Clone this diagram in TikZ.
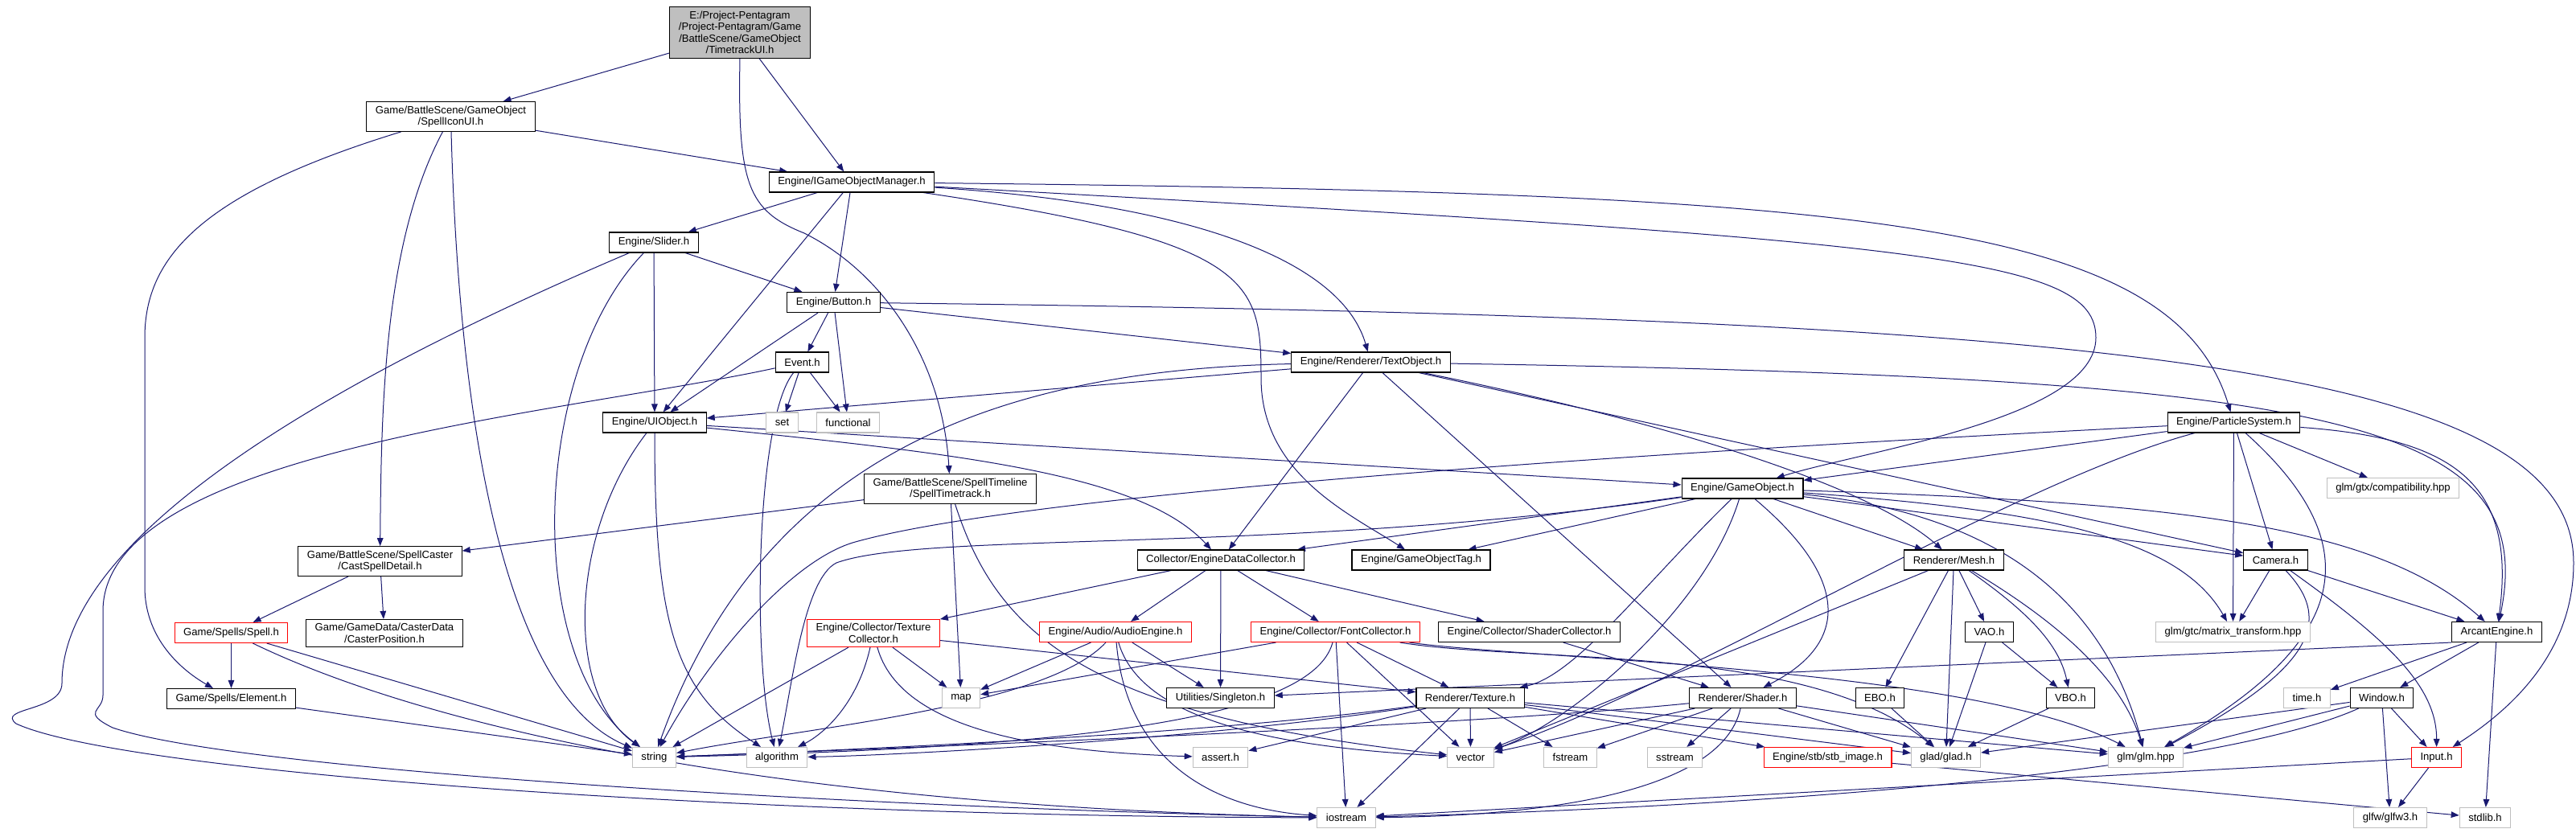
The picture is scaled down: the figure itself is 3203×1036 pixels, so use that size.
\documentclass[tikz,border=0pt]{standalone}
\usepackage{fontspec}
\setmainfont{Liberation Sans}
\usetikzlibrary{arrows.meta}
\pgfdeclarelayer{fond}
\pgfsetlayers{fond,main}
\definecolor{lienbleu}{HTML}{191970}
\definecolor{grisclair}{HTML}{BFBFBF}
\tikzset{
  fichier/.style={draw=black, line width=0.55pt, fill=white, inner xsep=5.5pt, inner ysep=2.5pt,
    minimum height=12.5pt, align=center, font=\fontsize{6.55}{7.25}\selectfont},
  systeme/.style={fichier, draw=grisclair},
  rouge/.style={fichier, draw=red},
  racine/.style={fichier, fill=grisclair},
  inclut/.style={draw=lienbleu, line width=0.5pt, -{Triangle[length=5pt,width=3.8pt]}}
}

\begin{document}
\begin{tikzpicture}[x=0.5pt, y=-0.5pt]
  \useasboundingbox (0,0) rectangle (3203,1036);

  % Fichiers du projet
  \node[racine] (root) at (920,40.5) {E:/Project-Pentagram\\/Project-Pentagram/Game\\/BattleScene/GameObject\\/TimetrackUI.h};
  \node[fichier] (spellicon) at (560.5,145) {Game/BattleScene/GameObject\\/SpellIconUI.h};
  \node[fichier] (igom) at (1059,226.5) {Engine/IGameObjectManager.h};
  \node[fichier] (slider) at (813,301.5) {Engine/Slider.h};
  \node[fichier] (button) at (1036.5,376) {Engine/Button.h};
  \node[fichier] (event) at (997.5,450.5) {Event.h};
  \node[fichier] (textobj) at (1704.5,450.5) {Engine/Renderer/TextObject.h};
  \node[fichier] (uiobj) at (814,525.5) {Engine/UIObject.h};
  \node[fichier] (particle) at (2777.5,525.5) {Engine/ParticleSystem.h};
  \node[fichier] (timetrack) at (1181.5,608) {Game/BattleScene/SpellTimeline\\/SpellTimetrack.h};
  \node[fichier] (gameobj) at (2166.5,607.5) {Engine/GameObject.h};
  \node[fichier] (castspell) at (472.5,698) {Game/BattleScene/SpellCaster\\/CastSpellDetail.h};
  \node[fichier] (datacoll) at (1518,696.5) {Collector/EngineDataCollector.h};
  \node[fichier] (gotag) at (1767,696.5) {Engine/GameObjectTag.h};
  \node[fichier] (mesh) at (2429.5,696.5) {Renderer/Mesh.h};
  \node[fichier] (camera) at (2829.5,696.5) {Camera.h};
  \node[rouge] (spell) at (287.5,787) {Game/Spells/Spell.h};
  \node[fichier] (casterpos) at (478,787.5) {Game/GameData/CasterData\\/CasterPosition.h};
  \node[rouge] (texcoll) at (1086,787.5) {Engine/Collector/Texture\\Collector.h};
  \node[rouge] (audio) at (1387,786) {Engine/Audio/AudioEngine.h};
  \node[rouge] (fontcoll) at (1660.5,786) {Engine/Collector/FontCollector.h};
  \node[fichier] (shadercoll) at (1901.5,786) {Engine/Collector/ShaderCollector.h};
  \node[fichier] (vao) at (2473.5,786) {VAO.h};
  \node[fichier] (arcant) at (3104.5,786) {ArcantEngine.h};
  \node[fichier] (element) at (287.5,869) {Game/Spells/Element.h};
  \node[fichier] (singleton) at (1517.5,868) {Utilities/Singleton.h};
  \node[fichier] (texture) at (1828,868) {Renderer/Texture.h};
  \node[fichier] (shader) at (2167,868) {Renderer/Shader.h};
  \node[fichier] (ebo) at (2337.5,868) {EBO.h};
  \node[fichier] (vbo) at (2574.5,868) {VBO.h};
  \node[fichier] (window) at (2961.5,868) {Window.h};
  \node[rouge] (stb) at (2272.5,942) {Engine/stb/stb\_image.h};
  \node[rouge] (input) at (3029.5,942) {Input.h};

  % En-tetes systeme
  \node[systeme] (set) at (972.5,525.5) {set};
  \node[systeme] (functional) at (1054.5,525.5) {functional};
  \node[systeme] (compat) at (2975.5,607) {glm/gtx/compatibility.hpp};
  \node[systeme] (matrix) at (2776.5,786) {glm/gtc/matrix\_transform.hpp};
  \node[systeme] (map) at (1195,868) {map};
  \node[systeme] (timeh) at (2868.5,868) {time.h};
  \node[systeme] (string) at (813.5,942) {string};
  \node[systeme] (algorithm) at (966,942) {algorithm};
  \node[systeme] (assert) at (1517.5,942) {assert.h};
  \node[systeme] (vector) at (1828.5,942) {vector};
  \node[systeme] (fstream) at (1952.5,942) {fstream};
  \node[systeme] (sstream) at (2082.5,942) {sstream};
  \node[systeme] (glad) at (2419.5,942) {glad/glad.h};
  \node[systeme] (glm) at (2668,942) {glm/glm.hpp};
  \node[systeme] (iostream) at (1674,1017) {iostream};
  \node[systeme] (glfw) at (2972,1017) {glfw/glfw3.h};
  \node[systeme] (stdlib) at (3090,1017) {stdlib.h};

  \begin{pgfonlayer}{fond}
  % Fond blanc
  \fill[white] (0,0) rectangle (3203,1036);

  % Liens depuis la racine
  \draw[inclut] (root) -- (spellicon);
  \draw[inclut] (root) -- (igom);
  \draw[inclut] (root.south) .. controls (917,230) and (930,262) .. (1000,290) .. controls (1100,340) and (1172,450) .. (timetrack);

  % SpellIconUI
  \draw[inclut] (spellicon) -- (igom);
  \draw[inclut] (spellicon) .. controls (478,300) and (474,500) .. (castspell);
  \draw[inclut] (spellicon) .. controls (570,500) and (620,860) .. (string);
  \draw[inclut] (spellicon) .. controls (250,240) and (180,320) .. (180,420) -- (180,730) .. controls (180,790) and (220,830) .. (element);

  % IGameObjectManager
  \draw[inclut] (igom) -- (slider);
  \draw[inclut] (igom) -- (uiobj);
  \draw[inclut] (igom) -- (button);
  \draw[inclut] (igom) .. controls (1500,255) and (1670,330) .. (textobj);
  \draw[inclut] (igom) .. controls (1560,300) and (1568,350) .. (1568,470) .. controls (1568,590) and (1680,640) .. (gotag);
  \draw[inclut] (igom) .. controls (2400,300) and (2606,320) .. (2606,420) .. controls (2606,520) and (2320,560) .. (gameobj);
  \draw[inclut] (igom) .. controls (2300,240) and (2700,270) .. (particle);

  % Slider
  \draw[inclut] (slider) -- (button);
  \draw[inclut] (slider) -- (uiobj);
  \draw[inclut] (slider) .. controls (660,460) and (650,820) .. (string);
  \draw[inclut] (slider) .. controls (300,520) and (77,700) .. (77,850) .. controls (77,885) and (-5,880) .. (20,900) .. controls (150,960) and (900,1015) .. (iostream);

  % Button
  \draw[inclut] (button) -- (uiobj);
  \draw[inclut] (button) -- (event);
  \draw[inclut] (button) -- (functional);
  \draw[inclut] (button) -- (textobj);
  \draw[inclut] (button) .. controls (2600,395) and (3200,450) .. (3200,700) .. controls (3200,820) and (3110,890) .. (input);

  % Event
  \draw[inclut] (event) -- (set);
  \draw[inclut] (event) -- (functional);
  \draw[inclut] (event) .. controls (940,520) and (935,820) .. (algorithm);
  \draw[inclut] (event) .. controls (700,515) and (128,560) .. (128,760) -- (128,865) .. controls (128,885) and (100,885) .. (140,905) .. controls (300,960) and (1100,1005) .. (iostream);

  % UIObject
  \draw[inclut] (uiobj) .. controls (710,660) and (700,860) .. (string);
  \draw[inclut] (uiobj) .. controls (814,780) and (840,860) .. (algorithm);
  \draw[inclut] (uiobj) -- (gameobj);
  \draw[inclut] (uiobj) .. controls (1200,565) and (1420,590) .. (datacoll);

  % TextObject
  \draw[inclut] (textobj) -- (uiobj);
  \draw[inclut] (textobj) .. controls (1250,460) and (950,560) .. (string);
  \draw[inclut] (textobj) -- (datacoll);
  \draw[inclut] (textobj) -- (shader);
  \draw[inclut] (textobj) .. controls (2050,520) and (2320,600) .. (mesh);
  \draw[inclut] (textobj) -- (camera);
  \draw[inclut] (textobj) .. controls (2900,470) and (3160,520) .. (arcant);

  % ParticleSystem
  \draw[inclut] (particle) -- (gameobj);
  \draw[inclut] (particle) .. controls (1900,570) and (1250,620) .. (1060,675) .. controls (980,700) and (880,820) .. (string);
  \draw[inclut] (particle) .. controls (2500,600) and (2100,850) .. (vector);
  \draw[inclut] (particle) -- (matrix);
  \draw[inclut] (particle) -- (camera);
  \draw[inclut] (particle) .. controls (2950,680) and (2920,800) .. (glm);
  \draw[inclut] (particle) -- (compat);
  \draw[inclut] (particle) .. controls (3050,545) and (3130,600) .. (arcant);

  % GameObject
  \draw[inclut] (gameobj) -- (gotag);
  \draw[inclut] (gameobj) -- (datacoll);
  \draw[inclut] (gameobj) .. controls (1600,690) and (1150,660) .. (1040,700) .. controls (1000,720) and (985,850) .. (algorithm);
  \draw[inclut] (gameobj) .. controls (2050,720) and (1960,840) .. (texture);
  \draw[inclut] (gameobj) .. controls (2120,760) and (1950,900) .. (vector);
  \draw[inclut] (gameobj) .. controls (2300,720) and (2300,800) .. (shader);
  \draw[inclut] (gameobj) -- (mesh);
  \draw[inclut] (gameobj) .. controls (2500,640) and (2620,760) .. (glm);
  \draw[inclut] (gameobj) -- (camera);
  \draw[inclut] (gameobj) .. controls (2550,635) and (2710,670) .. (matrix);
  \draw[inclut] (gameobj) .. controls (2700,625) and (2950,650) .. (arcant);

  % EngineDataCollector
  \draw[inclut] (datacoll) -- (texcoll);
  \draw[inclut] (datacoll) -- (audio);
  \draw[inclut] (datacoll) -- (singleton);
  \draw[inclut] (datacoll) -- (fontcoll);
  \draw[inclut] (datacoll) -- (shadercoll);

  % TextureCollector
  \draw[inclut] (texcoll) -- (map);
  \draw[inclut] (texcoll) -- (string);
  \draw[inclut] (texcoll) .. controls (1065,880) and (1020,915) .. (algorithm);
  \draw[inclut] (texcoll) .. controls (1120,910) and (1300,935) .. (assert);
  \draw[inclut] (texcoll) -- (texture);

  % AudioEngine
  \draw[inclut] (audio) -- (map);
  \draw[inclut] (audio) .. controls (1300,880) and (1000,905) .. (string);
  \draw[inclut] (audio) .. controls (1400,940) and (1500,1005) .. (iostream);
  \draw[inclut] (audio) .. controls (1420,900) and (1600,930) .. (vector);
  \draw[inclut] (audio) -- (singleton);

  % FontCollector
  \draw[inclut] (fontcoll) -- (map);
  \draw[inclut] (fontcoll) .. controls (1630,900) and (1300,930) .. (string);
  \draw[inclut] (fontcoll) -- (iostream);
  \draw[inclut] (fontcoll) -- (vector);
  \draw[inclut] (fontcoll) -- (texture);
  \draw[inclut] (fontcoll) .. controls (1900,825) and (2250,800) .. (glad);
  \draw[inclut] (fontcoll) .. controls (1900,820) and (2450,830) .. (glm);

  \draw[inclut] (shadercoll) -- (shader);

  % Texture
  \draw[inclut] (texture) .. controls (1500,915) and (1000,935) .. (string);
  \draw[inclut] (texture) .. controls (1500,920) and (1100,940) .. (algorithm);
  \draw[inclut] (texture) -- (assert);
  \draw[inclut] (texture) -- (iostream);
  \draw[inclut] (texture) -- (vector);
  \draw[inclut] (texture) -- (fstream);
  \draw[inclut] (texture) -- (stb);
  \draw[inclut] (texture) -- (glad);
  \draw[inclut] (texture) -- (glm);

  % Shader
  \draw[inclut] (shader) .. controls (1800,905) and (1000,935) .. (string);
  \draw[inclut] (shader) -- (vector);
  \draw[inclut] (shader) -- (fstream);
  \draw[inclut] (shader) -- (sstream);
  \draw[inclut] (shader) .. controls (2140,990) and (1900,1015) .. (iostream);
  \draw[inclut] (shader) -- (glad);
  \draw[inclut] (shader) -- (glm);

  % Mesh et tampons
  \draw[inclut] (mesh) -- (vector);
  \draw[inclut] (mesh) -- (ebo);
  \draw[inclut] (mesh) -- (glad);
  \draw[inclut] (mesh) -- (vao);
  \draw[inclut] (mesh) .. controls (2520,760) and (2560,800) .. (vbo);
  \draw[inclut] (mesh) .. controls (2570,780) and (2640,850) .. (glm);
  \draw[inclut] (vao) -- (glad);
  \draw[inclut] (vao) -- (vbo);
  \draw[inclut] (ebo) -- (glad);
  \draw[inclut] (vbo) -- (glad);

  % Camera
  \draw[inclut] (camera) -- (matrix);
  \draw[inclut] (camera) -- (arcant);
  \draw[inclut] (camera) .. controls (2900,770) and (2880,830) .. (glm);
  \draw[inclut] (camera) .. controls (2960,790) and (3030,850) .. (input);

  % ArcantEngine, Window, Input
  \draw[inclut] (arcant.south west) -- (singleton);
  \draw[inclut] (arcant) -- (timeh);
  \draw[inclut] (arcant) -- (window);
  \draw[inclut] (arcant) -- (stdlib);
  \draw[inclut] (window) -- (glad);
  \draw[inclut] (window) -- (glm);
  \draw[inclut] (window) .. controls (2780,950) and (2300,1000) .. (iostream);
  \draw[inclut] (window) -- (glfw);
  \draw[inclut] (window) -- (input);
  \draw[inclut] (input) -- (iostream);
  \draw[inclut] (input) -- (glfw);
  \draw[inclut] (stb) -- (stdlib);

  % Sorts
  \draw[inclut] (castspell) -- (spell);
  \draw[inclut] (castspell) -- (casterpos);
  \draw[inclut] (spell) -- (element);
  \draw[inclut] (spell) -- (string);
  \draw[inclut] (spell) .. controls (500,890) and (900,1000) .. (iostream);
  \draw[inclut] (element) -- (string);

  % SpellTimetrack
  \draw[inclut] (timetrack) -- (castspell);
  \draw[inclut] (timetrack) -- (map);
  \draw[inclut] (timetrack) .. controls (1240,790) and (1350,890) .. (vector);
  \end{pgfonlayer}
\end{tikzpicture}
\end{document}
